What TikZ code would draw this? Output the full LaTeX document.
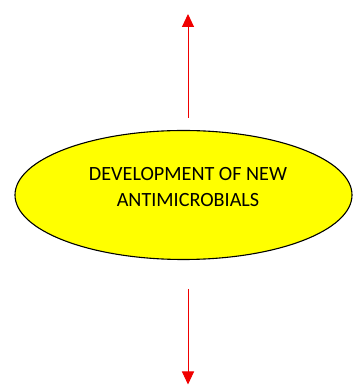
\documentclass[tikz,border=0pt]{standalone}
\usepackage{fontspec}
\setmainfont{Carlito}
\usetikzlibrary{arrows.meta, positioning, shapes.geometric}
\definecolor{devyellow}{RGB}{255, 255, 0}
\definecolor{arrowred}{RGB}{240, 0, 0}

\begin{document}
\begin{tikzpicture}[
  x=1pt, y=1pt,
  every node/.style={font=\fontsize{20.2}{26}\selectfont},
  goal/.style={
    ellipse, draw=black, fill=devyellow, line width=1.1pt,
    minimum width=337pt, minimum height=129pt, inner sep=0pt
  },
  arrow/.style={-{Triangle[length=13pt, width=12pt]}, line width=1pt, color=arrowred}
]
  \useasboundingbox (0,0) rectangle (353,385);

  % Nodo centrale
  \node[goal] (dev) at (183.5,190) {};
  \node[align=center, inner sep=0pt] (devtext) at (188,198) {DEVELOPMENT OF NEW\\ANTIMICROBIALS};

  % Punti delle frecce
  \coordinate (upstart) at (188,267);
  \coordinate (upend) at (188,371);
  \coordinate (downstart) at (188,96);
  \coordinate (downend) at (188,0.5);

  % Frecce verticali
  \draw[arrow] (upstart) -- (upend);
  \draw[arrow] (downstart) -- (downend);

\end{tikzpicture}
\end{document}
